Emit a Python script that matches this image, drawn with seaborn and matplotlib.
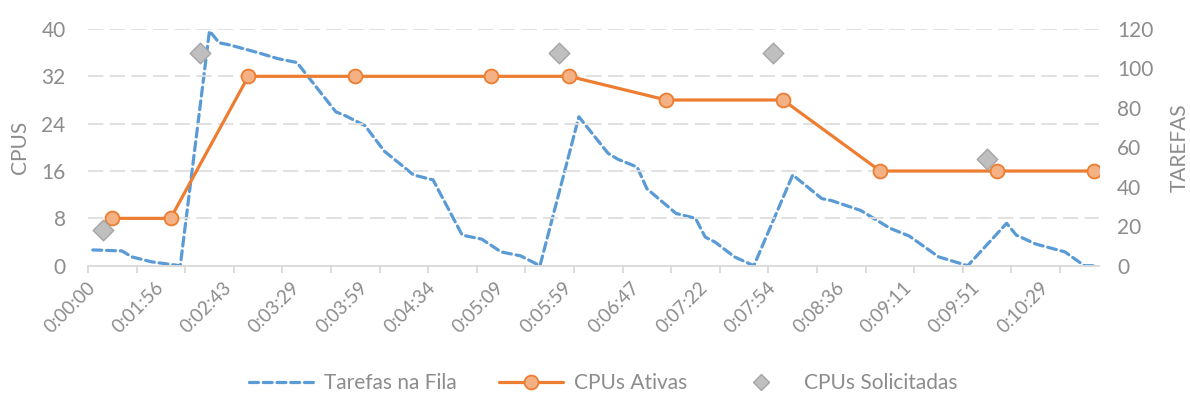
import numpy as np
import pandas as pd
import matplotlib
matplotlib.use("Agg")
import matplotlib.pyplot as plt
from matplotlib.lines import Line2D
import seaborn as sns

# ---- data -------------------------------------------------------------
n_categories = 104            # time stamps on the category axis
label_step = 7                # every 7th time stamp is labelled
tick_labels = ["0:00:00", "0:01:56", "0:02:43", "0:03:29", "0:03:59",
               "0:04:34", "0:05:09", "0:05:59", "0:06:47", "0:07:22",
               "0:07:54", "0:08:36", "0:09:11", "0:09:51", "0:10:29"]

# Tarefas na Fila (secondary axis), sampled at these time-stamp indices
fila_idx = [0, 3, 4, 6, 9, 12, 13, 14, 17, 19, 21, 25, 26, 28, 30, 31, 33,
            35, 38, 40, 42, 44, 46, 50, 53, 54, 56, 57, 60, 62, 63, 64, 66,
            68, 72, 75, 76, 79, 82, 84, 87, 90, 94, 95, 97, 100, 102, 103]
fila_val = [8, 7.5, 4.5, 2, 0, 119, 113, 112, 108, 105, 103, 78, 76, 71, 58,
            54, 46, 43.5, 15.5, 13.5, 7, 5, 0, 75.5, 57, 54, 50, 39, 26.5, 24,
            14.5, 12, 4.5, 0, 46, 34, 33, 28, 19, 15, 4.5, 0, 21.5, 15.5, 11,
            7, 0, 0]

# CPUs Ativas
ativas_idx = [2, 8, 16, 27, 41, 49, 59, 71, 81, 93, 103]
ativas_val = [8, 8, 32, 32, 32, 32, 28, 28, 16, 16, 16]

# CPUs Solicitadas
solic_idx = [1, 11, 48, 70, 92]
solic_val = [6, 36, 36, 36, 18]

# ---- style ------------------------------------------------------------
sns.set_theme(style="white")
plt.rcParams["font.family"] = ["Lato", "DejaVu Sans"]
TXT = "#8C8C8C"
GRID = "#DEDEDE"
AXIS = "#D9D9D9"
BLUE = "#5B9BD5"
ORANGE = "#ED7D31"
ORANGE_FILL = "#F4B183"
GRAY_FILL = "#BFBFBF"
GRAY_EDGE = "#A5A5A5"
FS = 15
FS_X = 13.5

fig = plt.figure(figsize=(11.9, 3.97), dpi=100)
ax = fig.add_axes([0.0739, 0.3307, 0.8496, 0.5963])
ax2 = ax.twinx()
ax.set_zorder(ax2.get_zorder() + 1)
ax.patch.set_visible(False)

fila = pd.DataFrame({"idx": fila_idx, "val": fila_val})
ativas = pd.DataFrame({"idx": ativas_idx, "val": ativas_val})
solic = pd.DataFrame({"idx": solic_idx, "val": solic_val})

sns.lineplot(data=fila, x="idx", y="val", ax=ax2, color=BLUE, lw=2.3,
             estimator=None, sort=False)
fila_line = ax2.lines[-1]
fila_line.set_dashes([2.8, 1.5])
fila_line.set_dash_capstyle("round")

sns.lineplot(data=ativas, x="idx", y="val", ax=ax, color=ORANGE, lw=2.3,
             marker="o", markersize=10, markerfacecolor=ORANGE_FILL,
             markeredgecolor=ORANGE, markeredgewidth=1.3,
             estimator=None, sort=False, zorder=3)
sns.scatterplot(data=solic, x="idx", y="val", ax=ax, marker="D", s=110,
                color=GRAY_FILL, edgecolor=GRAY_EDGE, linewidth=1.0, zorder=4)

# ---- axes -------------------------------------------------------------
ax.set_xlim(-0.5, n_categories - 0.5)
ax2.set_xlim(-0.5, n_categories - 0.5)
ax.set_ylim(0, 40)
ax2.set_ylim(0, 120)
ax.set_yticks(np.arange(0, 41, 8))
ax2.set_yticks(np.arange(0, 121, 20))

for y in np.arange(8, 41, 8):
    ax.axhline(y, color=GRID, lw=1.3, dashes=(8.5, 3.5), zorder=0)

label_pos = np.arange(len(tick_labels)) * label_step
ax.set_xticks(label_pos)
ax.set_xticklabels(tick_labels, rotation=45, ha="right", va="center",
                   rotation_mode="anchor", color=TXT, fontsize=FS_X)
ax.set_xticks(np.arange(-0.5, n_categories, 5), minor=True)
ax.tick_params(axis="x", which="major", length=0, pad=14)
ax.tick_params(axis="x", which="minor", length=5, width=1.3, color=AXIS,
               bottom=True)
ax2.tick_params(axis="x", bottom=False, labelbottom=False)

ax.tick_params(axis="y", length=0, pad=16, labelsize=FS, labelcolor=TXT)
ax2.tick_params(axis="y", length=0, pad=13, labelsize=FS, labelcolor=TXT)

for a in (ax, ax2):
    for s in a.spines.values():
        s.set_visible(False)
    a.set_xlabel("")
ax.spines["bottom"].set_visible(True)
ax.spines["bottom"].set_color(AXIS)
ax.spines["bottom"].set_linewidth(1.3)

ax.set_ylabel("CPUS", color=TXT, fontsize=FS, labelpad=8)
ax2.set_ylabel("TAREFAS", color=TXT, fontsize=FS, labelpad=12)

# ---- legend -----------------------------------------------------------
handles = [
    Line2D([], [], color=BLUE, lw=2.3, dashes=[2.8, 1.5],
           dash_capstyle="round"),
    Line2D([], [], color=ORANGE, lw=2.3, marker="o", markersize=10,
           markerfacecolor=ORANGE_FILL, markeredgecolor=ORANGE,
           markeredgewidth=1.3),
    Line2D([], [], ls="none", marker="D", markersize=8,
           markerfacecolor=GRAY_FILL, markeredgecolor=GRAY_EDGE),
]
fig.legend(handles, ["Tarefas na Fila", "CPUs Ativas", "CPUs Solicitadas"],
           loc="center", bbox_to_anchor=(0.507, 0.035), ncol=3, frameon=False,
           fontsize=FS, labelcolor=TXT, handlelength=3.1, handletextpad=0.5,
           columnspacing=2.0)

fig.savefig("out.png", dpi=100)
